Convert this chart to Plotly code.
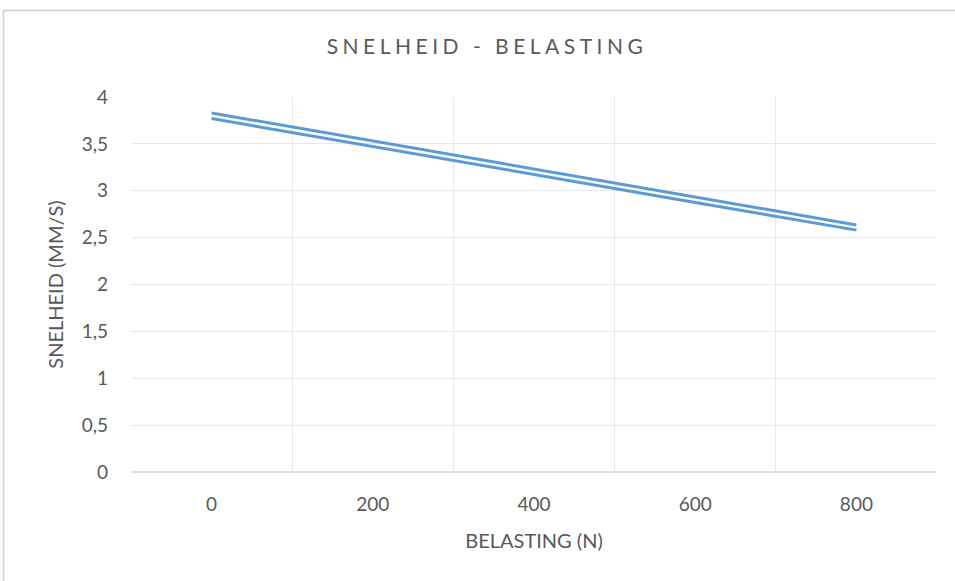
import plotly.graph_objects as go

belasting = [0, 200, 400, 600, 800]
snelheid_a = [3.83, 3.53, 3.23, 2.93, 2.635]
snelheid_b = [3.77, 3.47, 3.17, 2.875, 2.58]
x_ticks = [0, 200, 400, 600, 800]
y_ticks = [0, 0.5, 1, 1.5, 2, 2.5, 3, 3.5, 4]
y_labels = ["0", "0,5", "1", "1,5", "2", "2,5", "3", "3,5", "4"]

BLUE = "#5B9BD5"
TXT = "#595959"
GRID = "#E8E8E8"
AXIS = "#D9D9D9"
FONT = "Lato, Open Sans, sans-serif"

fig = go.Figure()
for ys, nm in [(snelheid_a, "A"), (snelheid_b, "B")]:
    fig.add_trace(go.Scatter(x=belasting, y=ys, mode="lines", name=nm,
                             line=dict(color=BLUE, width=3), showlegend=False))

L, R, T, B = 131, 18, 97, 109
W, H = 955, 581
pw, ph = W - L - R, H - T - B

def px(x):
    return (x - L) / pw

def py(y):
    return (H - B - y) / ph

fig.update_layout(
    width=W, height=H,
    margin=dict(l=L, r=R, t=T, b=B),
    paper_bgcolor="white", plot_bgcolor="white",
    separators=",.",
    font=dict(family=FONT, color=TXT, size=19),
    title=dict(text='<span style="letter-spacing:4.5px">SNELHEID - BELASTING</span>',
               x=px(487), xref="paper", xanchor="center",
               y=1 - 47 / H, yanchor="middle",
               font=dict(family=FONT, size=21, color=TXT)),
    xaxis=dict(range=[-100, 900], tickvals=x_ticks, showgrid=False, zeroline=False,
               showline=False, ticks="", ticklabelstandoff=19,
               minor=dict(tickvals=[-100, 100, 300, 500, 700, 900], showgrid=True,
                          gridcolor=GRID, gridwidth=1, ticks=""),
               title=dict(text="BELASTING (N)", standoff=19, font=dict(size=20, color=TXT)),
               tickfont=dict(size=19, color=TXT)),
    yaxis=dict(range=[0, 4], tickvals=y_ticks, ticktext=y_labels, showgrid=True,
               gridcolor=GRID, gridwidth=1, zeroline=False, showline=False, ticks="",
               ticklabelstandoff=22,
               title=dict(text="SNELHEID (MM/S)", standoff=12, font=dict(size=20, color=TXT)),
               tickfont=dict(size=19, color=TXT)),
    shapes=[
        dict(type="line", xref="paper", yref="paper", x0=0, x1=1, y0=0, y1=0,
             line=dict(color=AXIS, width=1.5)),
        dict(type="rect", xref="paper", yref="paper",
             x0=px(3.5), x1=px(990), y0=py(620), y1=py(10.5),
             line=dict(color="#D0D0D0", width=1.5), fillcolor="rgba(0,0,0,0)", layer="below"),
    ],
)

fig.write_html("out.html", config={"displayModeBar": False},
               post_script="document.body.style.margin='0';")
